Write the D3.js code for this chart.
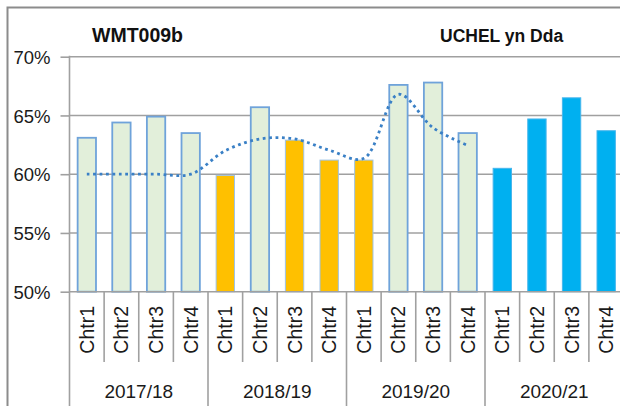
<!DOCTYPE html>
<html>
<head>
<meta charset="utf-8">
<script src="https://cdn.jsdelivr.net/npm/d3@7"></script>
<style>
  html, body { margin: 0; padding: 0; background: #fff; overflow: hidden; }
  svg { display: block; font-family: "Liberation Sans", Arial, sans-serif; }
</style>
</head>
<body>
<svg id="chart" width="620" height="406"></svg>
<script>
// ---- data ----
const years = ["2017/18", "2018/19", "2019/20", "2020/21"];
const quarters = ["Chtr1", "Chtr2", "Chtr3", "Chtr4"];
const values = [63.1, 64.4, 64.9, 63.5,
                59.9, 65.7, 62.9, 61.2,
                61.2, 67.6, 67.8, 63.5,
                60.5, 64.7, 66.5, 63.7];
const barType = ["past", "past", "past", "past",
                 "low", "past", "low", "low",
                 "low", "past", "past", "past",
                 "current", "current", "current", "current"];
const trend = [60, 60, 60, 60, 62.0, 63.0, 63.0, 62.05, 61.35, 66.8, 63.95, 62.45];
const yTicks = [50, 55, 60, 65, 70];
const titleLeft = "WMT009b";
const titleRight = "UCHEL yn Dda";

// ---- layout ----
const svg = d3.select("#chart");
const x0 = 69.5, x1 = 623.5, yTop = 56.7, yBot = 291.7;

const cats = [];
years.forEach(y => quarters.forEach(q => cats.push(y + "|" + q)));

const x = d3.scaleBand().domain(cats).range([x0, x1]).paddingInner(0.47).paddingOuter(0.235);
const y = d3.scaleLinear().domain([50, 70]).range([yBot, yTop]);
const step = x.step();

const fill = { past: "#e2efda", low: "#ffc000", current: "#00b0f0" };
const stroke = { past: "#6fa3da", low: "#9dc3e6", current: "#47b6ec" };
const strokeW = { past: 1.8, low: 1, current: 1 };
const textCol = "#1a1a1a";

// frame
svg.append("rect").attr("x", 7.5).attr("y", 7.5).attr("width", 700).attr("height", 500)
  .attr("fill", "none").attr("stroke", "#8c8c8c").attr("stroke-width", 2);

// gridlines
svg.append("g").selectAll("line").data(yTicks.filter(d => d > 50)).join("line")
  .attr("x1", x0).attr("x2", 620).attr("y1", d => y(d)).attr("y2", d => y(d))
  .attr("stroke", "#a0a0a0").attr("stroke-width", 1.6);

// y axis
const yAxis = d3.axisLeft(y).tickValues(yTicks).tickSize(9).tickPadding(10).tickFormat(d => d + "%");
const ya = svg.append("g").attr("transform", `translate(${x0},0)`).call(yAxis);
ya.select(".domain").remove();
ya.selectAll(".tick line").attr("stroke", "#a0a0a0").attr("stroke-width", 1.6);
ya.selectAll(".tick text").attr("font-size", 18.5).attr("fill", textCol).attr("dy", "0.36em");
svg.append("line").attr("x1", x0).attr("x2", x0).attr("y1", yTop - 1).attr("y2", 406)
  .attr("stroke", "#a0a0a0").attr("stroke-width", 1.6);

// bars
svg.append("g").selectAll("rect").data(values).join("rect")
  .attr("x", (d, i) => x(cats[i]))
  .attr("width", x.bandwidth())
  .attr("y", d => y(d))
  .attr("height", d => y(50) - y(d))
  .attr("fill", (d, i) => fill[barType[i]])
  .attr("stroke", (d, i) => stroke[barType[i]])
  .attr("stroke-width", (d, i) => strokeW[barType[i]]);

// x axis line
svg.append("line").attr("x1", x0).attr("x2", 620).attr("y1", yBot).attr("y2", yBot)
  .attr("stroke", "#a0a0a0").attr("stroke-width", 1.6);

// category separators
const xa = svg.append("g");
cats.forEach((c, i) => {
  const bx = x(c) - x.paddingInner() * step / 2 + step;
  const isGroup = (i + 1) % quarters.length === 0;
  xa.append("line").attr("x1", bx).attr("x2", bx).attr("y1", yBot).attr("y2", isGroup ? 406 : 362)
    .attr("stroke", "#a0a0a0").attr("stroke-width", 1.6);
});

// category labels (rotated)
xa.selectAll("text.cat").data(cats).join("text").attr("class", "cat")
  .attr("transform", d => `translate(${x(d) + x.bandwidth() / 2},306) rotate(-90)`)
  .attr("text-anchor", "end").attr("dy", "0.36em")
  .attr("font-size", 19.5).attr("fill", textCol)
  .text(d => d.split("|")[1]);

// group labels
xa.selectAll("text.grp").data(years).join("text").attr("class", "grp")
  .attr("x", d => {
    const first = x(d + "|" + quarters[0]) - x.paddingInner() * step / 2;
    return first + step * quarters.length / 2;
  })
  .attr("y", 398).attr("text-anchor", "middle")
  .attr("font-size", 19).attr("fill", textCol)
  .text(d => d);

// trend line
const line = d3.line()
  .x((d, i) => x(cats[i]) + x.bandwidth() / 2)
  .y(d => y(d))
  .curve(d3.curveCatmullRom.alpha(0.5));
svg.append("path").datum(trend).attr("d", line)
  .attr("fill", "none").attr("stroke", "#3a80c6").attr("stroke-width", 2.8)
  .attr("stroke-dasharray", "2.8,3.6");

// titles
svg.append("text").attr("x", 92).attr("y", 41.5).attr("font-size", 19.5).attr("font-weight", "bold")
  .attr("fill", "#111").text(titleLeft);
svg.append("text").attr("x", 440).attr("y", 41.5).attr("font-size", 17.5).attr("font-weight", "bold")
  .attr("fill", "#111").text(titleRight);
</script>
</body>
</html>
